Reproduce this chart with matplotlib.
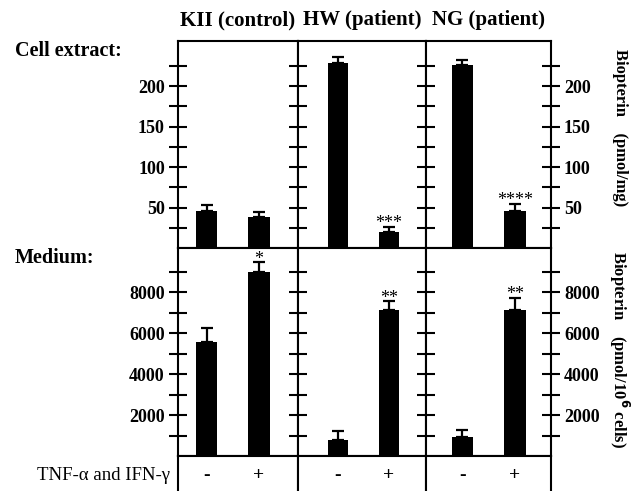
import matplotlib
matplotlib.use("Agg")
import matplotlib.pyplot as plt

# ---------------- data ----------------
groups = ["KII (control)", "HW (patient)", "NG (patient)"]
treatment = ["-", "+"]
cell_mean = [[46, 38], [229, 20], [226, 46]]
cell_sem = [[7.5, 6], [7, 6], [6, 9]]
cell_stars = [["", ""], ["", "***"], ["", "****"]]
medium_mean = [[5580, 8990], [780, 7130], [910, 7130]]
medium_sem = [[660, 460], [440, 430], [360, 590]]
medium_stars = [["", "*"], ["", "**"], ["", "**"]]
cell_ticks = [25, 50, 75, 100, 125, 150, 175, 200, 225]
cell_ticklabels = ["", "50", "", "100", "", "150", "", "200", ""]
medium_ticks = [1000, 2000, 3000, 4000, 5000, 6000, 7000, 8000, 9000]
medium_ticklabels = ["", "2000", "", "4000", "", "6000", "", "8000", ""]

# ---------------- layout ----------------
W, H = 632, 491
fig = plt.figure(figsize=(W / 100, H / 100), dpi=100)
SERIF = ["Liberation Serif", "DejaVu Serif"]
plt.rcParams["font.family"] = SERIF

px_edges = [178, 298, 425.7, 550.7]
xlims = [(-0.543, 1.743), (-0.784, 1.72), (-0.695, 1.677)]
rows = [(41, 248), (248, 456)]
table_row = (456, 491)
bar_w = 0.41


def frac_box(x0, x1, y0, y1):
    return [x0 / W, 1 - y1 / H, (x1 - x0) / W, (y1 - y0) / H]


def style_axes(ax, ticks, labels, i, ylim):
    ax.set_ylim(*ylim)
    ax.set_xlim(*xlims[i])
    ax.set_xticks([])
    ax.set_yticks(ticks)
    ax.set_yticklabels(labels, fontsize=13, fontweight="bold")
    for s in ax.spines.values():
        s.set_linewidth(1.5)
    ax.tick_params(axis="y", direction="inout", length=13, width=1.5, pad=3,
                   left=True, labelleft=(i == 0),
                   right=(i == 2), labelright=(i == 2))


datasets = [
    (cell_mean, cell_sem, cell_stars, cell_ticks, cell_ticklabels, (0, 256)),
    (medium_mean, medium_sem, medium_stars, medium_ticks, medium_ticklabels, (0, 10150)),
]

for r, (means, sems, stars, ticks, tlabels, ylim) in enumerate(datasets):
    y0, y1 = rows[r]
    px_per_unit = (y1 - y0) / (ylim[1] - ylim[0])
    for i in range(3):
        ax = fig.add_axes(frac_box(px_edges[i], px_edges[i + 1], y0, y1))
        xs = list(range(len(treatment)))
        ax.bar(xs, means[i], width=bar_w, color="black", zorder=2)
        ax.errorbar(xs, means[i], yerr=[[0] * len(xs), sems[i]], fmt="none",
                    ecolor="black", elinewidth=1.6, capsize=4.5, capthick=1.6, zorder=3)
        for x, m, s, st in zip(xs, means[i], sems[i], stars[i]):
            if st:
                ax.text(x, m + s - 1.5 / px_per_unit, st, ha="center", va="baseline",
                        fontsize=13, family=SERIF, clip_on=False, zorder=5)
        style_axes(ax, ticks, tlabels, i, ylim)

# table row with treatment signs
for i in range(3):
    ax = fig.add_axes(frac_box(px_edges[i], px_edges[i + 1], *table_row))
    ax.set_xlim(*xlims[i])
    ax.set_ylim(0, 1)
    ax.set_xticks([])
    ax.set_yticks([])
    ax.spines["bottom"].set_visible(False)
    for s in ax.spines.values():
        s.set_linewidth(1.5)
    for x, t in enumerate(treatment):
        ax.text(x, 0.43, t, ha="center", va="center", fontsize=14, fontweight="bold")

# headers
for i, g in enumerate(groups):
    xc = (px_edges[i] + px_edges[i + 1]) / 2 / W
    fig.text(xc, 1 - 20 / H, g, ha="center", va="center", fontsize=15, fontweight="bold")

fig.text(15 / W, 1 - 51 / H, "Cell extract:", ha="left", va="center", fontsize=14.5, fontweight="bold")
fig.text(15 / W, 1 - 258 / H, "Medium:", ha="left", va="center", fontsize=14.5, fontweight="bold")
fig.text(170 / W, 1 - 476 / H, "TNF-\u03b1 and IFN-\u03b3", ha="right", va="center", fontsize=13.5)

fig.text(620 / W, 1 - 128 / H, "Biopterin    (pmol/mg)", rotation=-90, ha="center", va="center",
         fontsize=12, fontweight="bold")
fig.text(619 / W, 1 - 350 / H, "Biopterin    (pmol/10$^{\\mathbf{6}}$ cells)", rotation=-90,
         ha="center", va="center", fontsize=12, fontweight="bold")

fig.savefig("out.png", dpi=100)
